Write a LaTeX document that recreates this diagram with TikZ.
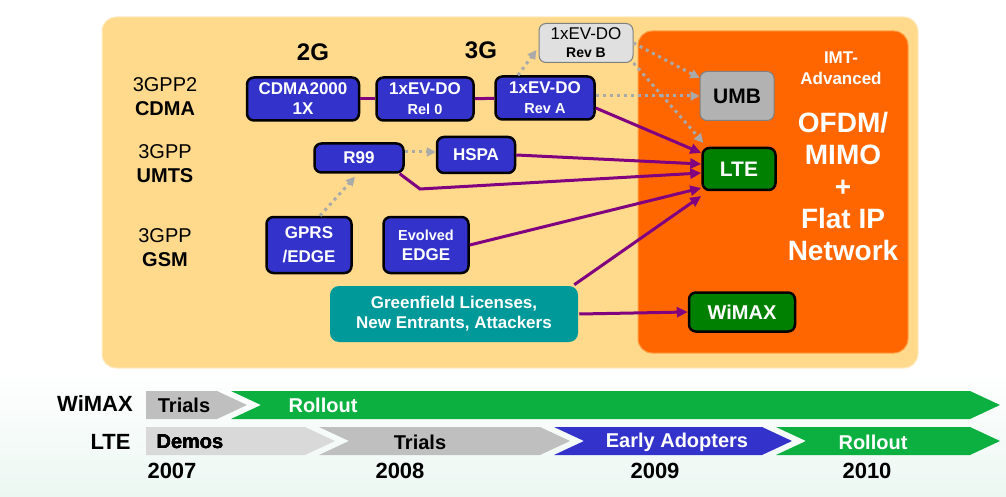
\documentclass[tikz,border=0pt]{standalone}
\usepackage{fontspec}
\setmainfont{Liberation Sans}
\usetikzlibrary{arrows.meta}

\definecolor{sand}{RGB}{255,218,140}
\definecolor{imtorange}{RGB}{255,102,0}
\definecolor{techblue}{RGB}{51,51,204}
\definecolor{ltegreen}{RGB}{0,128,0}
\definecolor{linkpurple}{RGB}{128,0,128}
\definecolor{dotgrey}{RGB}{170,170,170}
\definecolor{gfteal}{RGB}{0,153,153}
\definecolor{rollgreen}{RGB}{12,176,64}
\definecolor{phasegrey}{RGB}{191,191,191}
\definecolor{demogrey}{RGB}{217,217,217}
\definecolor{revgrey}{RGB}{224,224,224}
\definecolor{umbgrey}{RGB}{178,178,178}
\definecolor{mint}{RGB}{236,247,242}

\newcommand{\fsize}[2]{\fontsize{#1}{#2}\selectfont}
\newcommand{\chevron}[5]{%
	\fill[#4] (#1,#3) -- (#2,#3) -- ++(30,14) -- ++(-30,14) -- (#1,{#3+28}) -- ++(#5,-14) -- cycle;}

\tikzset{
	tech/.style={draw=black, line width=2.5pt, rounded corners=7pt, fill=techblue, text=white,
		font=\fsize{17}{20}\bfseries, align=center, inner sep=0pt},
	target/.style={tech, fill=ltegreen, font=\fsize{21}{24}\bfseries},
	oldtech/.style={draw=gray, line width=1pt, rounded corners=7pt, text=black, align=center, inner sep=0pt},
	link/.style={linkpurple, line width=3pt},
	evolve/.style={link, -{Triangle[length=11pt,width=10pt]}},
	hint/.style={dotgrey, line width=3pt, dash pattern=on 3pt off 4pt, -{Triangle[length=9pt,width=9pt]}},
	rowlabel/.style={font=\fsize{20}{24}, align=center},
	phase/.style={font=\fsize{20}{22}\bfseries},
	year/.style={font=\fsize{22}{24}\bfseries},
}

\begin{document}
\begin{tikzpicture}[x=1pt,y=-1pt]
	\useasboundingbox (0,0) rectangle (1006,497);
	\shade[top color=white, bottom color=mint] (0,370) rectangle (1006,497);
	\fill[sand, draw=sand!50!white, line width=1pt, rounded corners=14pt] (102,17) rectangle (918,368);
	\fill[imtorange, draw=imtorange!50!sand, line width=1pt, rounded corners=14pt] (638,31) rectangle (908,353);

	\node[font=\fsize{24}{26}\bfseries] (twog) at (313,52) {2G};
	\node[font=\fsize{24}{26}\bfseries] (threeg) at (481,50) {3G};
	\node[rowlabel] (cdmarow) at (165,97) {3GPP2\\\textbf{CDMA}};
	\node[rowlabel] (umtsrow) at (165,164) {3GPP\\\textbf{UMTS}};
	\node[rowlabel] (gsmrow) at (165,248) {3GPP\\\textbf{GSM}};

	\node[tech, minimum width=112pt, minimum height=43pt] (cdma) at (303,99) {CDMA2000\\1X};
	\node[tech, minimum width=97pt, minimum height=43pt] (rel0) at (425,99) {1xEV-DO\\{\fsize{14.5}{16}\bfseries Rel 0}};
	\node[tech, minimum width=99pt, minimum height=43pt] (reva) at (545,98) {1xEV-DO\\{\fsize{14.5}{16}\bfseries Rev A}};
	\node[oldtech, fill=revgrey, minimum width=94pt, minimum height=39pt, font=\fsize{17}{18}] (revb) at (586,43)
		{1xEV-DO\\{\fsize{14}{16}\bfseries Rev B}};
	\node[tech, minimum width=89pt, minimum height=29pt] (r99) at (359,158) {R99};
	\node[tech, minimum width=78pt, minimum height=36pt] (hspa) at (476,155) {HSPA};
	\node[tech, minimum width=85pt, minimum height=56pt, font=\fsize{17}{24}\bfseries] (gprs) at (309,245) {GPRS\\/EDGE};
	\node[tech, minimum width=85pt, minimum height=56pt] (eedge) at (426,245) {{\fsize{14.5}{16}\bfseries Evolved}\\EDGE};
	\node[tech, draw=none, fill=gfteal, rounded corners=9pt, minimum width=248pt, minimum height=56pt] (fresh) at (454,314)
		{Greenfield Licenses,\\New Entrants, Attackers};
	\node[oldtech, fill=umbgrey, minimum width=74pt, minimum height=49pt, font=\fsize{21}{24}\bfseries] (umb) at (737,96) {UMB};
	\node[target, minimum width=73pt, minimum height=42pt] (lte) at (739,169) {LTE};
	\node[target, minimum width=106pt, minimum height=39pt, font=\fsize{20}{22}\bfseries] (wimax) at (742,312) {WiMAX};

	\node[font=\fsize{17}{21}\bfseries, text=white, align=center] (imt) at (841,68) {IMT-\\Advanced};
	\node[font=\fsize{28}{32}\bfseries, text=white, align=center] (ofdm) at (843,186) {OFDM/\\MIMO\\+\\Flat IP\\Network};

	\draw[link] (cdma) -- (rel0);
	\draw[link] (rel0) -- (reva);
	\draw[evolve] ([yshift=-10pt]reva.east) -- ([yshift=16pt]lte.west);
	\draw[evolve] (hspa.east) -- ([yshift=5pt]lte.west);
	\coordinate (r99bend) at (420,189);
	\draw[evolve] ([xshift=-5pt]r99.south east) -- (r99bend) -- ([yshift=-4pt]lte.west);
	\draw[evolve] (eedge.east) -- ([yshift=-19pt]lte.west);
	\draw[evolve] ([xshift=-5pt]fresh.north east) -- ([yshift=-27pt]lte.west);
	\draw[evolve] (fresh.east) -- (wimax.west);

	\draw[hint] ([xshift=11pt]gprs.north) -- ([xshift=-4pt,yshift=-3pt]r99.south);
	\draw[hint] ([yshift=6pt]r99.east) -- ([yshift=3pt]hspa.west);
	\draw[hint] ([xshift=-27pt]reva.north) -- ([xshift=-2pt,yshift=-7pt]revb.west);
	\draw[hint] (revb.east) -- ([yshift=-7pt]umb.north west);
	\draw[hint] (revb.south east) -- ([xshift=2pt,yshift=4pt]lte.north west);
	\draw[hint] ([yshift=2pt]reva.east) -- (umb.west);

	\node[font=\fsize{22}{24}\bfseries] (wimaxrow) at (95,404) {WiMAX};
	\node[font=\fsize{22}{24}\bfseries, anchor=east] (lterow) at (134,442) {LTE};

	\chevron{146}{217}{391}{phasegrey}{0}
	\chevron{231}{970}{391}{rollgreen}{30}
	\node[phase] (wtrials) at (184,405) {Trials};
	\node[phase, text=white] (wrollout) at (323,405) {Rollout};

	\foreach \xa/\xb/\col/\nt in {146/305/demogrey/0, 319/540/phasegrey/30, 554/762/techblue/30, 776/970/rollgreen/30}
		\chevron{\xa}{\xb}{427}{\col}{\nt}
	\node[phase] (ldemos) at (190,442) {Demos};
	\node[phase] (ltrials) at (420,442) {Trials};
	\node[phase, text=white] (learly) at (677,442) {Early Adopters};
	\node[phase, text=white] (lrollout) at (873,442) {Rollout};

	\foreach \yr/\x in {2007/172, 2008/400, 2009/655, 2010/867}
		\node[year] (y\yr) at (\x,471) {\yr};
\end{tikzpicture}
\end{document}
